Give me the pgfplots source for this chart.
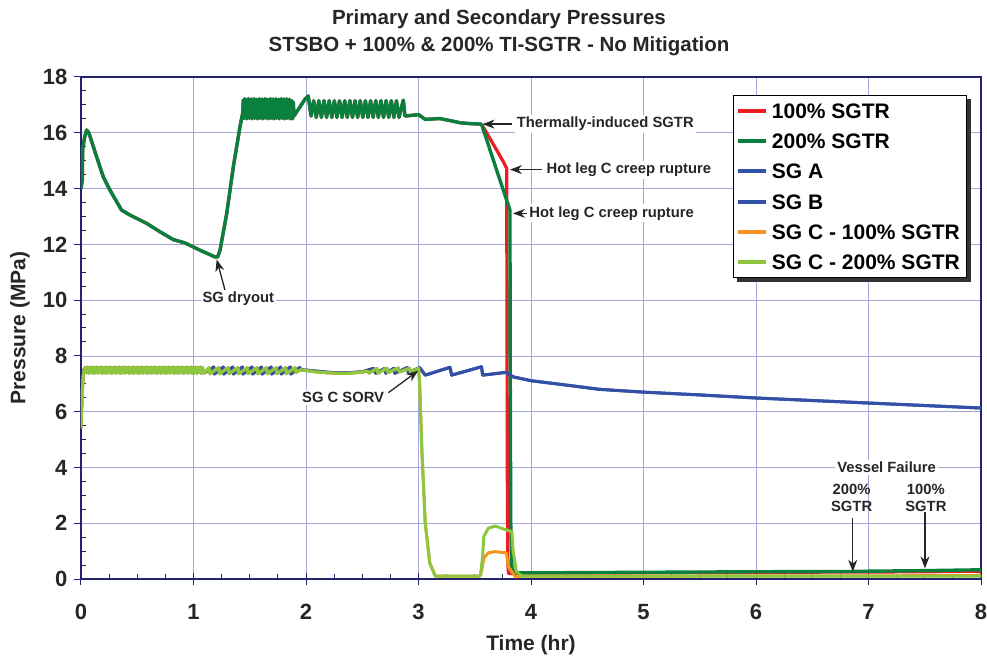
\documentclass[border=0pt]{standalone}
\usepackage{fontspec}
\setmainfont{Liberation Sans}
\usepackage{pgfplots}
\pgfplotsset{compat=1.18}
\usepackage{pgfplotstable}
\usetikzlibrary{arrows.meta}

\definecolor{navyax}{RGB}{35,35,110}
\definecolor{gridc}{RGB}{165,165,215}
\definecolor{redp}{RGB}{237,28,36}
\definecolor{greenp}{RGB}{10,128,62}
\definecolor{bluesg}{RGB}{50,80,165}
\definecolor{orangesg}{RGB}{247,148,29}
\definecolor{limesg}{RGB}{141,198,63}

% primary pressure, common part of both cases
\pgfplotstableread{
t p
0 14.0
0.012 14.3
0.015 15.4
0.03 15.8
0.05 16.1
0.07 16.0
0.124 15.32
0.198 14.42
0.258 13.94
0.36 13.23
0.435 13.05
0.584 12.75
0.702 12.45
0.82 12.17
0.924 12.05
1.058 11.79
1.19 11.55
1.215 11.55
1.236 11.79
1.295 13.1
1.354 14.78
1.413 16.21
1.437 16.70
1.443 17.18
1.449 16.52
1.455 17.22
1.461 16.55
1.467 17.16
1.473 16.50
1.479 17.20
1.485 16.56
1.491 17.22
1.497 16.52
1.503 17.18
1.509 16.55
1.515 17.21
1.521 16.50
1.527 17.17
1.533 16.56
1.539 17.22
1.545 16.52
1.551 17.18
1.557 16.55
1.563 17.20
1.569 16.50
1.575 17.16
1.581 16.56
1.587 17.22
1.593 16.52
1.599 17.18
1.605 16.55
1.611 17.21
1.617 16.50
1.623 17.17
1.629 16.56
1.635 17.22
1.641 16.52
1.647 17.18
1.653 16.55
1.659 17.20
1.665 16.50
1.671 17.16
1.677 16.56
1.683 17.22
1.689 16.52
1.695 17.18
1.701 16.55
1.707 17.21
1.713 16.50
1.719 17.17
1.725 16.56
1.731 17.22
1.737 16.52
1.743 17.18
1.749 16.55
1.755 17.20
1.761 16.50
1.767 17.16
1.773 16.56
1.779 17.22
1.785 16.52
1.791 17.18
1.797 16.55
1.803 17.21
1.809 16.50
1.815 17.17
1.821 16.56
1.827 17.22
1.833 16.52
1.839 17.18
1.845 16.55
1.851 17.20
1.857 16.50
1.863 17.16
1.869 16.52
1.875 17.15
1.881 16.50
1.887 17.10
1.893 16.60
1.917 16.75
1.95 16.95
1.99 17.2
2.02 17.32
2.045 16.6
2.068 17.15
2.091 16.55
2.114 17.15
2.137 16.55
2.160 17.15
2.183 16.55
2.206 17.15
2.229 16.55
2.252 17.15
2.275 16.55
2.298 17.15
2.321 16.55
2.344 17.15
2.367 16.55
2.390 17.15
2.413 16.55
2.436 17.15
2.459 16.55
2.482 17.15
2.505 16.55
2.528 17.15
2.551 16.55
2.574 17.15
2.597 16.55
2.620 17.15
2.643 16.55
2.666 17.15
2.689 16.55
2.712 17.15
2.735 16.55
2.758 17.15
2.781 16.55
2.804 17.15
2.827 16.55
2.865 17.17
2.88 16.6
3.0 16.65
3.06 16.48
3.19 16.51
3.3 16.42
3.37 16.36
3.45 16.33
3.56 16.31
}\primcommon

\pgfplotstableread{
t p
3.56 16.31
3.62 15.9
3.695 15.38
3.754 14.96
3.784 14.72
3.786 10.0
3.79 3.0
3.795 0.5
3.80 0.2
3.85 0.2
4.0 0.21
5.0 0.22
6.0 0.24
7.0 0.25
7.5 0.26
8.0 0.28
}\primred

\pgfplotstableread{
t p
3.56 16.31
3.636 15.38
3.724 14.3
3.813 13.23
3.815 8.0
3.82 2.0
3.83 0.4
3.85 0.22
4.0 0.22
5.0 0.24
6.0 0.26
6.85 0.27
7.0 0.28
7.5 0.3
8.0 0.33
}\primgreen

% steam generator pressure, common start of all generators
\pgfplotstableread{
t p
0 5.4
0.01 6.6
0.02 7.3
0.03 7.56
0.04 7.58
0.05 7.39
0.06 7.60
0.07 7.38
0.08 7.59
0.09 7.40
0.10 7.60
0.11 7.37
0.12 7.58
0.13 7.39
0.14 7.60
0.15 7.38
0.16 7.59
0.17 7.40
0.18 7.60
0.19 7.37
0.20 7.58
0.21 7.39
0.22 7.60
0.23 7.38
0.24 7.59
0.25 7.40
0.26 7.60
0.27 7.37
0.28 7.58
0.29 7.39
0.30 7.60
0.31 7.38
0.32 7.59
0.33 7.40
0.34 7.60
0.35 7.37
0.36 7.58
0.37 7.39
0.38 7.60
0.39 7.38
0.40 7.59
0.41 7.40
0.42 7.60
0.43 7.37
0.44 7.58
0.45 7.39
0.46 7.60
0.47 7.38
0.48 7.59
0.49 7.40
0.50 7.60
0.51 7.37
0.52 7.58
0.53 7.39
0.54 7.60
0.55 7.38
0.56 7.59
0.57 7.40
0.58 7.60
0.59 7.37
0.60 7.58
0.61 7.39
0.62 7.60
0.63 7.38
0.64 7.59
0.65 7.40
0.66 7.60
0.67 7.37
0.68 7.58
0.69 7.39
0.70 7.60
0.71 7.38
0.72 7.59
0.73 7.40
0.74 7.60
0.75 7.37
0.76 7.58
0.77 7.39
0.78 7.60
0.79 7.38
0.80 7.59
0.81 7.40
0.82 7.60
0.83 7.37
0.84 7.58
0.85 7.39
0.86 7.60
0.87 7.38
0.88 7.59
0.89 7.40
0.90 7.60
0.91 7.37
0.92 7.58
0.93 7.39
0.94 7.60
0.95 7.38
0.96 7.59
0.97 7.40
0.98 7.60
0.99 7.37
1.00 7.58
1.01 7.39
1.02 7.60
1.03 7.38
1.04 7.59
1.05 7.40
1.06 7.60
1.07 7.37
1.08 7.58
1.09 7.39
1.10 7.40
}\secdense

\pgfplotstableread{
t p
1.10 7.40
1.18 7.6
1.185 7.35
1.265 7.6
1.27 7.35
1.35 7.6
1.355 7.35
1.435 7.6
1.44 7.35
1.52 7.6
1.525 7.35
1.605 7.6
1.61 7.35
1.69 7.6
1.695 7.35
1.775 7.6
1.78 7.35
1.86 7.6
1.865 7.35
1.945 7.58
1.95 7.5
2.0 7.49
2.1 7.45
2.2 7.41
2.3 7.39
2.4 7.40
2.5 7.43
2.6 7.55
2.62 7.38
2.7 7.55
2.71 7.38
2.78 7.55
2.79 7.38
2.9 7.58
2.91 7.40
3.01 7.58
3.06 7.31
3.28 7.59
3.295 7.31
3.56 7.61
3.57 7.31
3.78 7.41
3.84 7.25
4.0 7.11
4.32 6.95
4.61 6.80
5.0 6.70
5.5 6.60
6.0 6.49
6.5 6.40
7.0 6.31
7.5 6.22
8.0 6.13
}\sgAtail

\pgfplotstableread{
t p
1.10 7.40
1.14 7.58
1.145 7.36
1.225 7.58
1.23 7.36
1.31 7.58
1.315 7.36
1.395 7.58
1.40 7.36
1.48 7.58
1.485 7.36
1.565 7.58
1.57 7.36
1.65 7.58
1.655 7.36
1.735 7.58
1.74 7.36
1.82 7.58
1.825 7.36
1.905 7.58
1.91 7.40
1.95 7.50
2.0 7.47
2.1 7.42
2.2 7.39
2.3 7.37
2.4 7.38
2.5 7.42
2.55 7.45
2.56 7.38
2.63 7.55
2.64 7.38
2.72 7.56
2.73 7.40
2.82 7.57
2.83 7.42
2.92 7.56
2.93 7.42
3.0 7.55
3.01 7.0
3.03 4.6
3.06 2.0
3.1 0.57
3.15 0.10
3.55 0.10
}\sgCmid

\pgfplotstableread{
t p
3.55 0.10
3.57 0.50
3.58 0.74
3.62 0.94
3.68 0.98
3.78 0.94
3.80 0.44
3.86 0.08
3.90 0.10
8.0 0.12
}\sgCorange

\pgfplotstableread{
t p
3.55 0.10
3.57 0.80
3.58 1.52
3.62 1.82
3.68 1.90
3.78 1.76
3.83 1.70
3.84 1.04
3.87 0.26
3.92 0.10
8.0 0.10
}\sgClime

\begin{document}
\begin{tikzpicture}
\begin{axis}[
name=ax,
scale only axis,
width=900pt, height=502pt,
xmin=0, xmax=8, ymin=0, ymax=18,
xtick={0,...,8}, ytick={0,2,...,18},
minor x tick num=3, minor y tick num=3,
tick pos=left,
axis line style={navyax, line width=1.2pt},
tick style={navyax, line width=1pt},
tick align=inside,
major tick length=7pt, minor tick length=5pt,
every major x tick/.append style={yshift=-6pt},
every major y tick/.append style={xshift=-7pt},
major x tick style={/pgfplots/major tick length=12pt},
grid=major,
major grid style={gridc, line width=0.7pt},
/pgf/number format/assume math mode=true,
ticklabel style={font=\bfseries\fontsize{22}{26}\selectfont, text=black!85},
xticklabel style={yshift=-22pt},
yticklabel style={xshift=-10pt},
xlabel={Time (hr)},
ylabel={Pressure (MPa)},
label style={font=\bfseries\fontsize{21}{25}\selectfont, text=black!85},
xlabel style={at={(axis description cs:0.5,-0.1315)}, anchor=center},
ylabel style={at={(axis description cs:-0.0678,0.5)}, anchor=center},
legend style={name=leg, at={(0.7244,0.9641)}, anchor=north west, draw=black, line width=1pt,
  fill=white, font=\bfseries\fontsize{21}{25}\selectfont,
  inner xsep=5pt, inner ysep=0pt, row sep=0pt,
  nodes={inner sep=1.5pt, text height=21.15pt, text depth=6.15pt},
  /tikz/every odd column/.append style={column sep=4pt}},
legend cell align=left,
legend image code/.code={\fill (0pt,-1.5pt) rectangle (27pt,1.5pt);},
]
% primary side
\addplot[redp, line width=3.2pt, line join=round, forget plot] table[x=t,y=p] {\primcommon};
\addplot[redp, line width=3.2pt, line join=round, forget plot] table[x=t,y=p] {\primred};
\addplot[greenp, line width=3.4pt, line join=round, forget plot] table[x=t,y=p] {\primcommon};
\addplot[greenp, line width=3.4pt, line join=round, forget plot] table[x=t,y=p] {\primgreen};
% SG A and SG B
\addplot[bluesg, line width=3pt, line join=round, forget plot] table[x=t,y=p] {\secdense};
\addplot[bluesg, line width=3pt, line join=round, forget plot] table[x=t,y=p] {\sgAtail};
\addplot[bluesg, line width=3pt, line join=round, forget plot] table[x=t,y=p] {\sgAtail};
% SG C, both cases
\addplot[orangesg, line width=3pt, line join=round, forget plot] table[x=t,y=p] {\secdense};
\addplot[orangesg, line width=3pt, line join=round, forget plot] table[x=t,y=p] {\sgCmid};
\addplot[orangesg, line width=3pt, line join=round, forget plot] table[x=t,y=p] {\sgCorange};
\addplot[limesg, line width=3pt, line join=round, forget plot] table[x=t,y=p] {\secdense};
\addplot[limesg, line width=3pt, line join=round, forget plot] table[x=t,y=p] {\sgCmid};
\addplot[limesg, line width=3pt, line join=round, forget plot] table[x=t,y=p] {\sgClime};

\addlegendimage{redp, fill=redp}\addlegendentry{100\% SGTR}
\addlegendimage{greenp, fill=greenp}\addlegendentry{200\% SGTR}
\addlegendimage{bluesg, fill=bluesg}\addlegendentry{SG A}
\addlegendimage{bluesg, fill=bluesg}\addlegendentry{SG B}
\addlegendimage{orangesg, fill=orangesg}\addlegendentry{SG C - 100\% SGTR}
\addlegendimage{limesg, fill=limesg}\addlegendentry{SG C - 200\% SGTR}

% annotations
\begin{scope}[every node/.style={font=\bfseries\fontsize{14.8}{17}\selectfont, text=black!85, fill=white, inner sep=2pt},
  arr/.style={-{Stealth[length=12pt,width=9pt]}, line width=1.3pt, black!85}]
\draw[arr] (axis cs:3.828,16.31) -- (axis cs:3.57,16.31);
\node[anchor=west] at (axis cs:3.855,16.31) {Thermally-induced SGTR};
\draw[arr] (axis cs:4.095,14.68) -- (axis cs:3.813,14.68);
\node[anchor=west] at (axis cs:4.12,14.68) {Hot leg C creep rupture};
\draw[arr] (axis cs:3.962,13.11) -- (axis cs:3.84,13.11);
\node[anchor=west] at (axis cs:3.967,13.11) {Hot leg C creep rupture};
\draw[arr] (axis cs:1.28,10.36) -- (axis cs:1.206,11.46);
\node at (axis cs:1.398,10.04) {SG dryout};
\draw[arr] (axis cs:2.732,6.68) -- (axis cs:2.998,7.47);
\node at (axis cs:2.33,6.505) {SG C SORV};
\node at (axis cs:7.161,4.0) {Vessel Failure};
\node[align=center, fill=none] at (axis cs:6.85,2.92) {200\%\\SGTR};
\node[align=center, fill=none] at (axis cs:7.51,2.92) {100\%\\SGTR};
\draw[arr] (axis cs:6.86,2.18) -- (axis cs:6.86,0.26);
\draw[arr] (axis cs:7.502,2.41) -- (axis cs:7.502,0.38);
\end{scope}
\end{axis}
% legend shadow, on its right and lower edges
\fill[black!80] ([yshift=-4pt]leg.north east) rectangle ([xshift=4pt,yshift=-4pt]leg.south east);
\fill[black!80] ([xshift=4pt]leg.south west) rectangle ([xshift=4pt,yshift=-4pt]leg.south east);
\node[font=\bfseries\fontsize{20.5}{27}\selectfont, text=black!85, align=center, anchor=center]
  at ([shift={(-32pt,44pt)}]ax.north) {Primary and Secondary Pressures\\STSBO + 100\% \& 200\% TI-SGTR - No Mitigation};
\pgfresetboundingbox
\path ([shift={(-81pt,-79pt)}]ax.south west) rectangle ([shift={(6pt,77pt)}]ax.north east);
\end{tikzpicture}
\end{document}
